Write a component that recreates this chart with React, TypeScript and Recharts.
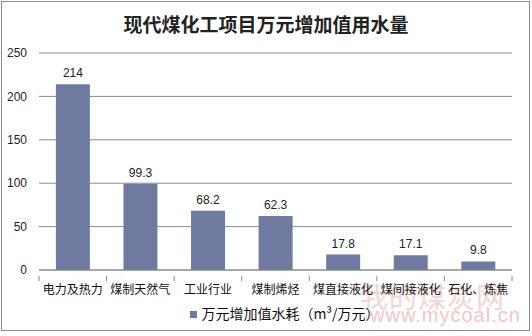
import { BarChart, Bar, XAxis, YAxis, CartesianGrid, Legend, LabelList } from "recharts";

const categories = ["电力及热力", "煤制天然气", "工业行业", "煤制烯烃", "煤直接液化", "煤间接液化", "石化、炼焦"];
const waterUse = [214, 99.3, 68.2, 62.3, 17.8, 17.1, 9.8];
const yTicks = [0, 50, 100, 150, 200, 250];

const data = categories.map((name, i) => ({ name, value: waterUse[i] }));

const cjk = '"Noto Sans CJK SC", "Liberation Sans", sans-serif';
const latin = '"Liberation Sans", sans-serif';

// category label plus excel-style tick marks on the band edges
function CategoryTick(props: any) {
  const { x, y, payload, index } = props;
  const half = payload.offset || 0;
  const top = y - 9;
  return (
    <g>
      <line x1={x - half} x2={x - half} y1={top} y2={top + 5} stroke="#8a8a8a" />
      {index === categories.length - 1 && (
        <line x1={x + half} x2={x + half} y1={top} y2={top + 5} stroke="#8a8a8a" />
      )}
      <text x={x} y={y} dy="0.71em" textAnchor="middle" fontSize={12} fill="#111" fontFamily={cjk}>
        {payload.value}
      </text>
    </g>
  );
}

export default function App() {
  return (
    <div style={{ position: "fixed", left: 0, top: 0, width: 532, height: 336, background: "#fff", fontFamily: cjk }}>
      <div style={{ position: "absolute", left: 1, top: 1, width: 527, height: 328, border: "1px solid #8c8c8c" }} />
      <div style={{ position: "absolute", left: 0, top: 10, width: 532, textAlign: "center", fontSize: 19, fontWeight: 700, color: "#222" }}>
        现代煤化工项目万元增加值用水量
      </div>
      <div style={{ position: "absolute", left: 360, top: 276, fontSize: 28, color: "#f2c6c6", letterSpacing: 1, opacity: 0.75 }}>
        我的煤炭网
      </div>
      <div style={{ position: "absolute", left: 370, top: 304, fontSize: 20, color: "#f0b8b8", fontFamily: latin, letterSpacing: 1, opacity: 0.8 }}>
        www.mycoal.cn
      </div>
      <div style={{ position: "absolute", left: 0, top: 0 }}>
        <BarChart width={532} height={336} data={data} margin={{ top: 53, right: 20, bottom: 12, left: 0 }} barCategoryGap="25%">
          <CartesianGrid horizontal vertical={false} stroke="#8a8a8a" />
          <XAxis
            dataKey="name"
            height={30}
            tickLine={false}
            tickMargin={9}
            axisLine={{ stroke: "#8a8a8a" }}
            interval={0}
            tick={<CategoryTick />}
          />
          <YAxis
            width={39}
            domain={[0, 250]}
            ticks={yTicks}
            axisLine={false}
            tickLine={false}
            tickSize={6}
            tickMargin={6}
            tick={{ fontSize: 12, fill: "#222", fontFamily: latin }}
          />
          <Legend
            verticalAlign="bottom"
            height={24}
            iconType="square"
            iconSize={7}
            wrapperStyle={{ paddingLeft: 34 }}
            formatter={() => <span style={{ color: "#111", fontSize: 14 }}>万元增加值水耗（m³/万元）</span>}
          />
          <Bar dataKey="value" name="万元增加值水耗（m³/万元）" fill="#6e7aa0" isAnimationActive={false}>
            <LabelList dataKey="value" position="top" offset={7} fill="#222" fontSize={12} fontFamily={latin} />
          </Bar>
        </BarChart>
      </div>
    </div>
  );
}
